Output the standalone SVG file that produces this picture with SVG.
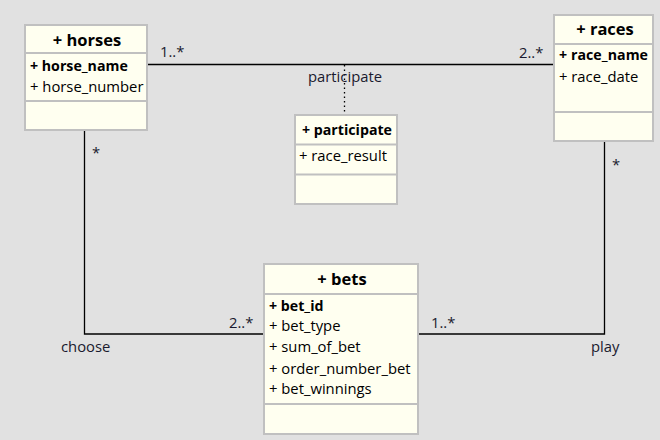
<svg xmlns="http://www.w3.org/2000/svg" width="660" height="440" viewBox="0 0 660 440">
<style>
.box{fill:#fffff0;stroke:#c0c0c0;stroke-width:2}
.sep{stroke:#c0c0c0;stroke-width:2}
.t{font-family:"Open Sans","DejaVu Sans",sans-serif;font-size:14.8px;fill:#000}
.title{font-family:"Open Sans","DejaVu Sans",sans-serif;font-size:16.5px;font-weight:bold;fill:#000;text-anchor:middle}
.pk{font-weight:bold;font-size:14.2px}
.lab{font-family:"Open Sans","DejaVu Sans",sans-serif;font-size:14.8px;fill:#1a1a2e}
.ln{fill:none;stroke:#000;stroke-width:1.3}
</style>
<rect width="660" height="440" fill="#e1e1e1"/>
<g id="connectors">
<line class="ln" x1="148" y1="64.5" x2="553" y2="64.5"/>
<line x1="344.5" y1="65" x2="344.5" y2="114" stroke="#000" stroke-width="1.3" stroke-dasharray="1.5,3"/>
<path class="ln" d="M84.5 131 V334 H263"/>
<path class="ln" d="M604.5 142 V334 H418"/>
<text class="lab" x="160" y="57">1..*</text>
<text class="lab" x="519" y="58">2..*</text>
<text class="lab" x="345" y="82" text-anchor="middle">participate</text>
<text class="lab" x="92" y="158">*</text>
<text class="lab" x="612" y="170">*</text>
<text class="lab" x="61" y="352">choose</text>
<text class="lab" x="591" y="352">play</text>
<text class="lab" x="229" y="328">2..*</text>
<text class="lab" x="431" y="328">1..*</text>
</g>
<g id="horses">
<rect class="box" x="25" y="25" width="122" height="105"/>
<line class="sep" x1="25" y1="53" x2="147" y2="53"/>
<line class="sep" x1="25" y1="101" x2="147" y2="101"/>
<text class="title" x="87" y="46">+ horses</text>
<text class="t pk" x="30" y="71">+ horse_name</text>
<text class="t" x="30" y="92">+ horse_number</text>
</g>
<g id="races">
<rect class="box" x="554" y="15" width="99" height="126"/>
<line class="sep" x1="554" y1="44" x2="653" y2="44"/>
<line class="sep" x1="554" y1="112" x2="653" y2="112"/>
<text class="title" x="605" y="35">+ races</text>
<text class="t pk" x="559" y="60" textLength="89">+ race_name</text>
<text class="t" x="559" y="82">+ race_date</text>
</g>
<g id="participate">
<rect class="box" x="295" y="115" width="102" height="89"/>
<line class="sep" x1="295" y1="144.5" x2="397" y2="144.5"/>
<line class="sep" x1="295" y1="174.5" x2="397" y2="174.5"/>
<text class="t pk" x="347" y="135" text-anchor="middle">+ participate</text>
<text class="t" x="299" y="161">+ race_result</text>
</g>
<g id="bets">
<rect class="box" x="264" y="264" width="154" height="170"/>
<line class="sep" x1="264" y1="294" x2="418" y2="294"/>
<line class="sep" x1="264" y1="404" x2="418" y2="404"/>
<text class="title" x="342" y="285">+ bets</text>
<text class="t pk" x="269" y="311">+ bet_id</text>
<text class="t" x="269" y="331">+ bet_type</text>
<text class="t" x="269" y="352">+ sum_of_bet</text>
<text class="t" x="269" y="374">+ order_number_bet</text>
<text class="t" x="269" y="394">+ bet_winnings</text>
</g>
</svg>
